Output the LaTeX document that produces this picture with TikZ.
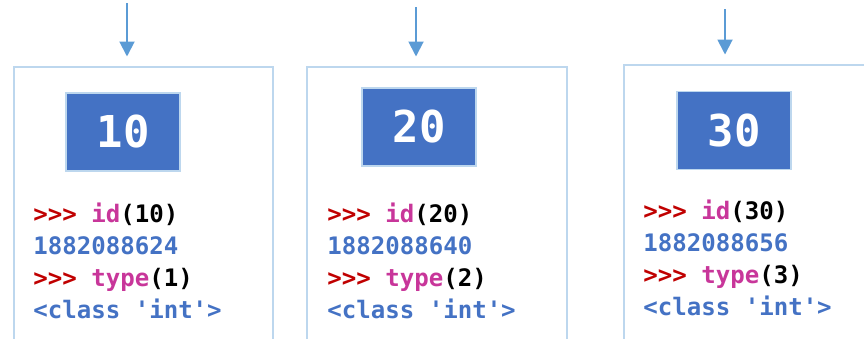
\documentclass[tikz,border=0pt]{standalone}
\usepackage{fontspec}
\setmonofont{DejaVu Sans Mono}
\usetikzlibrary{arrows.meta}
\definecolor{rahmen}{HTML}{BDD7EE}
\definecolor{pfeil}{HTML}{5B9BD5}
\definecolor{wert}{HTML}{4472C4}
\definecolor{prompt}{HTML}{C00000}
\definecolor{func}{HTML}{C8369A}
\newcommand{\pp}{\textcolor{prompt}{>{}>{}>}}
\newcommand{\fn}[1]{\textcolor{func}{#1}}
\tikzset{
  objbox/.style={draw=rahmen,line width=1.1pt,anchor=north west,minimum height=6cm,inner sep=0pt},
  valbox/.style={fill=wert,draw=rahmen,line width=0.6pt,minimum width=2.28cm,minimum height=1.56cm,
    text=white,font=\ttfamily\bfseries\fontsize{25}{30}\selectfont},
  ref/.style={-{Triangle[length=0.3cm,width=0.3cm]},pfeil,line width=1.1pt,shorten >=0.19cm},
  code/.style={anchor=base west,align=left,inner sep=0pt,
    font=\ttfamily\bfseries\fontsize{13.7}{18.2}\selectfont},
}
\begin{document}
\begin{tikzpicture}[x=0.02cm,y=-0.02cm]
  \useasboundingbox (0,0) rectangle (864,338);
  \clip (0,0) rectangle (864,338);
  % the three int objects
  \node[objbox,minimum width=5.18cm] (o1) at (13,66) {};
  \node[objbox,minimum width=5.2cm] (o2) at (306,66) {};
  \node[objbox,minimum width=6cm] (o3) at (623,64) {};
  \coordinate (t1) at (127,3);
  \coordinate (t2) at (416,7);
  \coordinate (t3) at (725,9);
  \draw[ref] (t1) -- (t1 |- o1.north);
  \draw[ref] (t2) -- (t2 |- o2.north);
  \draw[ref] (t3) -- (t3 |- o3.north);
  \node[valbox] (v1) at (123,132) {10};
  \node[valbox] (v2) at (419,127) {20};
  \node[valbox] (v3) at (734,130.5) {30};
  % base anchor = baseline of the last line
  \node[code] (c1) at (33,318) {\pp{} \fn{id}(10)\\\textcolor{wert}{1882088624}\\
    \pp{} \fn{type}(1)\\\textcolor{wert}{<class 'int'>}};
  \node[code] (c2) at (327,318) {\pp{} \fn{id}(20)\\\textcolor{wert}{1882088640}\\
    \pp{} \fn{type}(2)\\\textcolor{wert}{<class 'int'>}};
  \node[code] (c3) at (643,315) {\pp{} \fn{id}(30)\\\textcolor{wert}{1882088656}\\
    \pp{} \fn{type}(3)\\\textcolor{wert}{<class 'int'>}};
\end{tikzpicture}
\end{document}
